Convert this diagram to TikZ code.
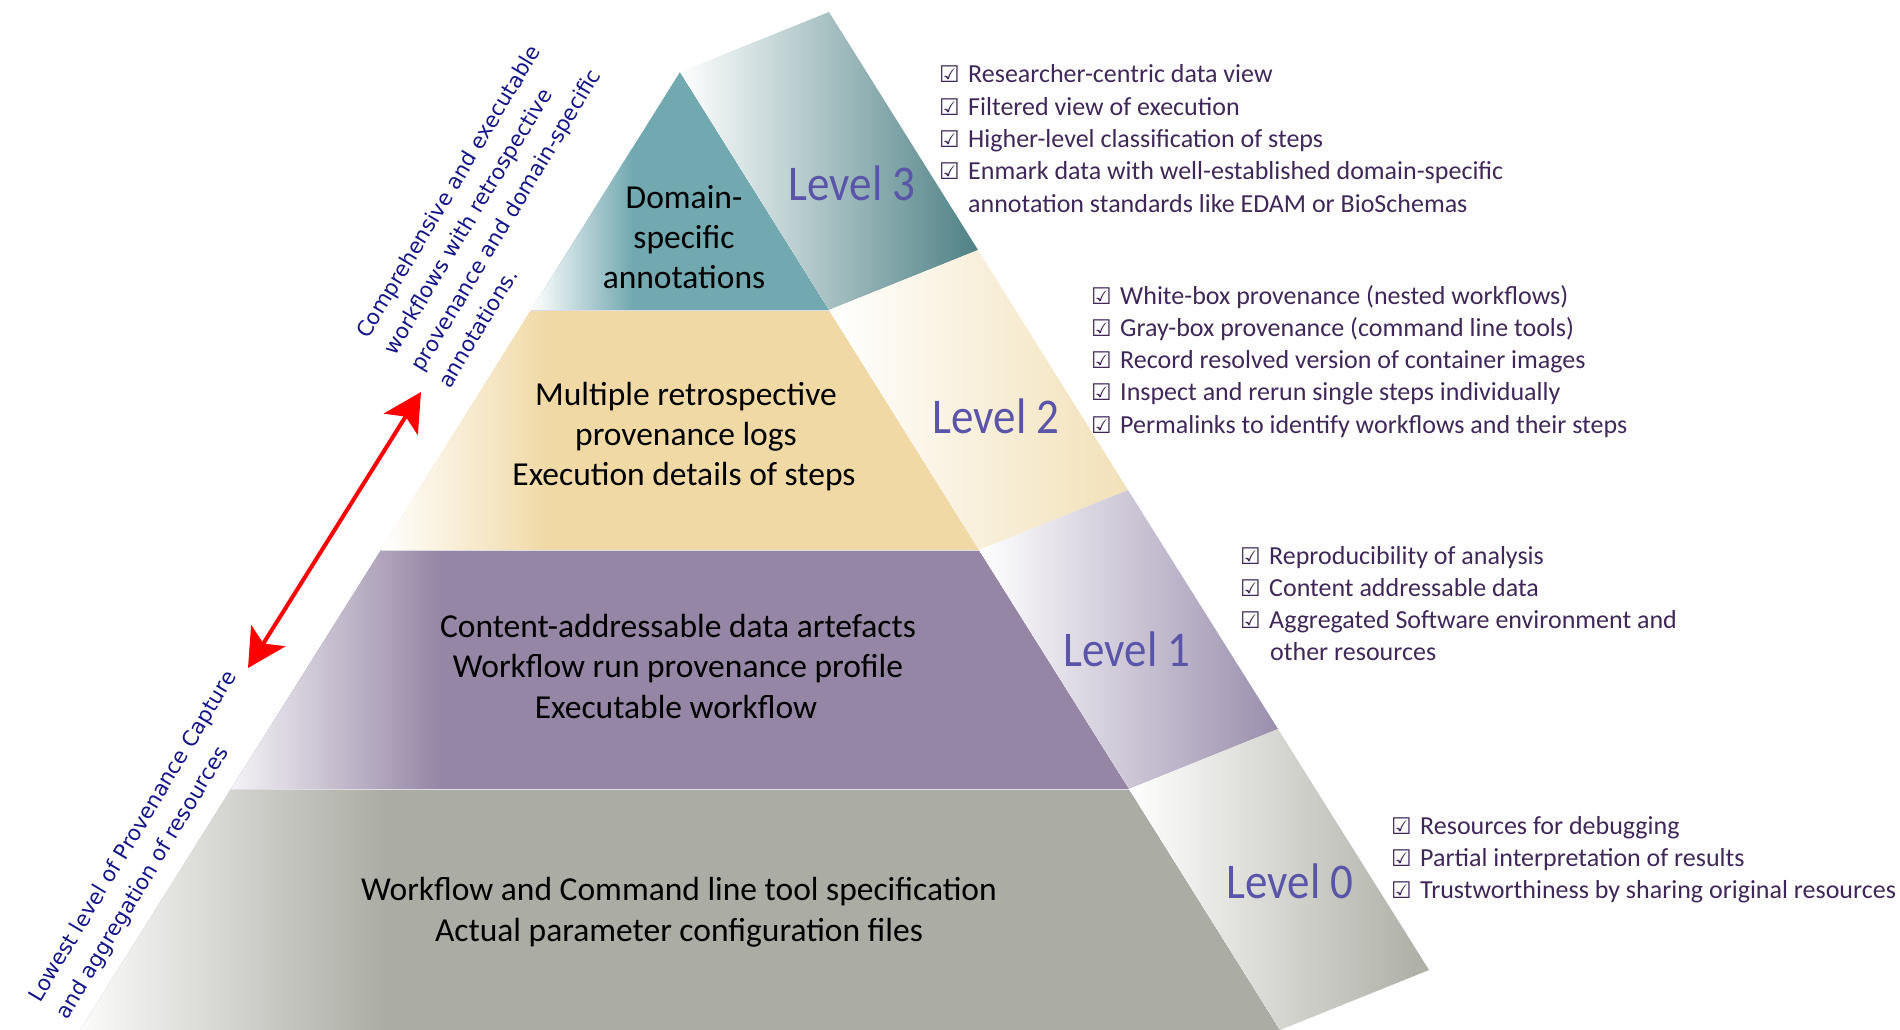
\documentclass[tikz,border=0pt]{standalone}
\usepackage{fontspec}
\setmainfont{Carlito}
\newfontfamily\symfont{DejaVu Sans}
\newfontfamily\rotfont{DejaVu Sans}
\newfontfamily\levfont[FakeStretch=0.9]{Carlito}
\usetikzlibrary{arrows.meta}
\definecolor{teal3}{HTML}{72A8B0}
\definecolor{tan2}{HTML}{F0D9A5}
\definecolor{purp1}{HTML}{9586A5}
\definecolor{gray0}{HTML}{ABACA3}
\definecolor{side3}{HTML}{4E8185}
\definecolor{side2}{HTML}{F2E1B8}
\definecolor{side1}{HTML}{9A8EAD}
\definecolor{side0}{HTML}{ACADA3}
\definecolor{levcol}{HTML}{5A55A8}
\definecolor{itemcol}{HTML}{3F2859}
\definecolor{rotcol}{HTML}{15158A}
\definecolor{sepcol}{HTML}{DCDCE2}
\newcommand{\cbox}{\makebox[29pt][l]{\symfont\fontsize{23}{23}\selectfont ☑}}
\tikzset{
  item/.style={anchor=base west, inner sep=0pt, text=itemcol, font=\fontsize{26}{30}\selectfont},
  front/.style={anchor=base, inner sep=0pt, text=black, font=\fontsize{33.5}{40}\selectfont},
  levlab/.style={anchor=base, inner sep=0pt, text=levcol, font=\levfont\fontsize{50}{50}\selectfont},
  rottext/.style={anchor=base west, inner sep=0pt, rotate=59, text=rotcol, font=\rotfont\fontsize{21.3}{25}\selectfont},
  sepline/.style={draw=sepcol, line width=1pt},
  bigarrow/.style={draw=red, line width=4pt, {Stealth[length=38pt,width=40pt,inset=9pt]}-{Stealth[length=38pt,width=40pt,inset=9pt]}}
}
\begin{document}
\begin{tikzpicture}[x=1pt,y=-1pt]
\useasboundingbox (0,0) rectangle (1900,1030);
% pyramid points
\coordinate (A) at (680,72);
\coordinate (Ab) at (829,12);
\coordinate (L3) at (531,310);   \coordinate (R3) at (829,310);  \coordinate (R3b) at (978,250);
\coordinate (L2) at (381,550);   \coordinate (R2) at (979,550);  \coordinate (R2b) at (1128,490);
\coordinate (L1) at (231,789);   \coordinate (R1) at (1129,789); \coordinate (R1b) at (1278,729);
\coordinate (L0) at (80,1030);   \coordinate (R0) at (1280,1030);\coordinate (R0b) at (1429,970);

% front bands
\begin{scope}
  \clip (L3) -- (A) -- (R3) -- cycle;
  \fill[teal3] (L3) -- (A) -- (R3) -- cycle;
  \shade[left color=white, right color=teal3] (531,60) rectangle (632,312);
\end{scope}
\begin{scope}
  \clip (L2) -- (L3) -- (R3) -- (R2) -- cycle;
  \fill[tan2] (L2) -- (L3) -- (R3) -- (R2) -- cycle;
  \shade[left color=white, right color=tan2] (381,305) rectangle (548,552);
\end{scope}
\begin{scope}
  \clip (L1) -- (L2) -- (R2) -- (R1) -- cycle;
  \fill[purp1] (L1) -- (L2) -- (R2) -- (R1) -- cycle;
  \shade[left color=white!90!purp1, right color=purp1] (231,545) rectangle (440,791);
\end{scope}
\begin{scope}
  \clip (L0) -- (L1) -- (R1) -- (R0) -- cycle;
  \fill[gray0] (L0) -- (L1) -- (R1) -- (R0) -- cycle;
  \shade[left color=white!95!gray0, right color=gray0] (80,785) rectangle (385,1032);
\end{scope}

% side faces
\shade[left color=white, right color=side3] (A) -- (Ab) -- (R3b) -- (R3) -- cycle;
\shade[left color=white, right color=side2] (R3) -- (R3b) -- (R2b) -- (R2) -- cycle;
\shade[left color=white, right color=side1] (R2) -- (R2b) -- (R1b) -- (R1) -- cycle;
\shade[left color=white, right color=side0] (R1) -- (R1b) -- (R0b) -- (R0) -- cycle;

% separators
\draw[sepline] (L3) -- (R3);
\draw[sepline] (L2) -- (R2);
\draw[sepline] (L1) -- (R1);

% level labels
\node[levlab] (lev3) at (852,200) {Level 3};
\node[levlab] (lev2) at (996,433) {Level 2};
\node[levlab] (lev1) at (1127,666) {Level 1};
\node[levlab] (lev0) at (1290,898) {Level 0};

% front texts
\node[front] (f3a) at (684,208) {Domain-};
\node[front] (f3b) at (684,248) {specific};
\node[front] (f3c) at (684,288) {annotations};
\node[front] (f2a) at (686,405) {Multiple retrospective};
\node[front] (f2b) at (686,445) {provenance logs};
\node[front] (f2c) at (684,485) {Execution details of steps};
\node[front] (f1a) at (678,637) {Content-addressable data artefacts};
\node[front] (f1b) at (678,677) {Workflow run provenance profile};
\node[front] (f1c) at (676,718) {Executable workflow};
\node[front] (f0a) at (679,900) {Workflow and Command line tool specification};
\node[front] (f0b) at (679,941) {Actual parameter configuration files};

% checklists
\foreach \t [count=\i] in {{Researcher-centric data view},{Filtered view of execution},{Higher-level classification of steps},{Enmark data with well-established domain-specific}}
  \node[item] (c3\i) at (939,{83+32.25*(\i-1)}) {\cbox\t};
\node[item] (c3x) at (968,212) {annotation standards like EDAM or BioSchemas};

\foreach \t [count=\i] in {{White-box provenance (nested workflows)},{Gray-box provenance (command line tools)},{Record resolved version of container images},{Inspect and rerun single steps individually},{Permalinks to identify workflows and their steps}}
  \node[item] (c2\i) at (1091,{304+32.25*(\i-1)}) {\cbox\t};

\foreach \t [count=\i] in {{Reproducibility of analysis},{Content addressable data},{Aggregated Software environment and}}
  \node[item] (c1\i) at (1240,{564+32*(\i-1)}) {\cbox\t};
\node[item] (c1x) at (1270,660) {other resources};

\foreach \t [count=\i] in {{Resources for debugging},{Partial interpretation of results},{Trustworthiness by sharing original resources}}
  \node[item] (c0\i) at (1391,{834+32*(\i-1)}) {\cbox\t};

% rotated side texts
\node[rottext] (u1) at (368,340) {Comprehensive and executable};
\node[rottext] (u2) at (395.4,356.5) {workflows with retrospective};
\node[rottext] (u3) at (422.8,372.9) {provenance and domain-specific};
\node[rottext] (u4) at (450.1,389.4) {annotations.};
\node[rottext] (d1) at (40,1004) {Lowest level of Provenance Capture};
\node[rottext] (d2) at (67.4,1020.5) {and aggregation of resources};

% red double arrow
\coordinate (arrLow) at (248,668);
\coordinate (arrHigh) at (421,392);
\draw[bigarrow] (arrLow) -- (arrHigh);
\end{tikzpicture}
\end{document}
